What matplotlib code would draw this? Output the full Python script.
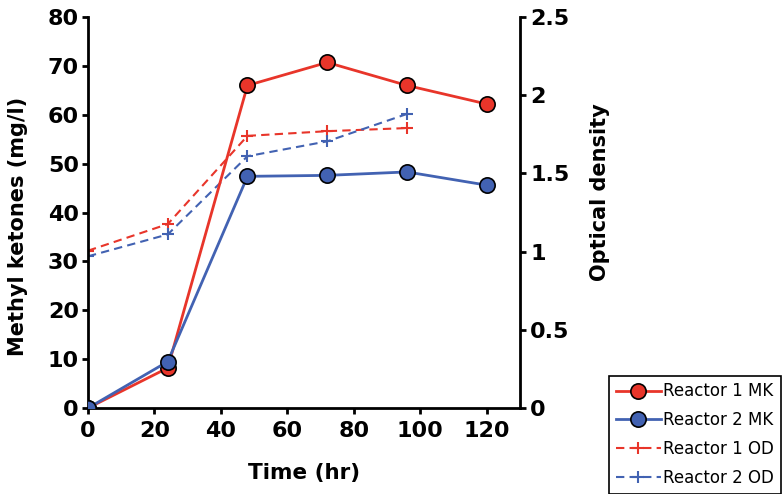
import matplotlib.pyplot as plt

# sampling times (hr)
time_mk = [0, 24, 48, 72, 96, 120]
time_od = [0, 24, 48, 72, 96]

# methyl ketones (mg/l)
reactor1_mk = [0, 8.2, 66.0, 70.7, 66.0, 62.2]
reactor2_mk = [0, 9.5, 47.4, 47.6, 48.3, 45.6]

# optical density
reactor1_od = [1.006, 1.176, 1.74, 1.77, 1.79]
reactor2_od = [0.97, 1.11, 1.61, 1.705, 1.88]

red = '#e8352a'
blue = '#4262b2'

fig = plt.figure(figsize=(7.83, 4.94), dpi=100)
ax = fig.add_axes([0.1124, 0.174, 0.5516, 0.7916])
ax2 = ax.twinx()

l1, = ax.plot(time_mk, reactor1_mk, '-o', color=red, lw=2, ms=11,
              mfc=red, mec='black', mew=1.2, zorder=3)
l2, = ax.plot(time_mk, reactor2_mk, '-o', color=blue, lw=2, ms=11,
              mfc=blue, mec='black', mew=1.2, zorder=3)
l3, = ax2.plot(time_od, reactor1_od, '--+', color=red, lw=1.5, ms=8, mew=1.5,
               dashes=(4, 2.5))
l4, = ax2.plot(time_od, reactor2_od, '--+', color=blue, lw=1.5, ms=8, mew=1.5,
               dashes=(4, 2.5))

ax.set_xlim(0, 130)
ax.set_ylim(0, 80)
ax2.set_ylim(0, 2.5)
ax.set_xticks(range(0, 121, 20))
ax.set_yticks(range(0, 81, 10))
ax2.set_yticks([0, 0.5, 1, 1.5, 2, 2.5])
ax2.set_yticklabels(['0', '0.5', '1', '1.5', '2', '2.5'])

for a in (ax, ax2):
    a.spines['top'].set_visible(False)
    for s in ('left', 'right', 'bottom'):
        a.spines[s].set_linewidth(2)
    a.tick_params(width=2, length=4.5, labelsize=16)
    for lab in a.get_xticklabels() + a.get_yticklabels():
        lab.set_fontweight('bold')
ax.tick_params(axis='y', pad=2)
ax.tick_params(axis='x', pad=5)
ax2.tick_params(axis='y', pad=3)
ax.spines['right'].set_visible(False)
ax2.spines['left'].set_visible(False)
ax2.spines['bottom'].set_visible(False)

ax.set_xlabel('Time (hr)', fontsize=15.5, fontweight='bold')
ax.set_ylabel('Methyl ketones (mg/l)', fontsize=15, fontweight='bold')
ax2.set_ylabel('Optical density', fontsize=15, fontweight='bold')
ax.yaxis.set_label_coords(-0.139, 0.465)
ax2.yaxis.set_label_coords(1.162, 0.552)
ax.xaxis.set_label_coords(0.5, -0.14)

ax.set_zorder(ax2.get_zorder() + 1)
ax.patch.set_visible(False)

leg = fig.legend([l1, l2, l3, l4],
                 ['Reactor 1 MK', 'Reactor 2 MK', 'Reactor 1 OD', 'Reactor 2 OD'],
                 loc='lower right', bbox_to_anchor=(0.997, 0.001), fontsize=12,
                 fancybox=False, edgecolor='black', framealpha=1,
                 handlelength=2.7, handletextpad=0.15, labelspacing=0.65,
                 borderaxespad=0)
leg.get_frame().set_linewidth(1.2)

fig.savefig('out.png', dpi=100)
